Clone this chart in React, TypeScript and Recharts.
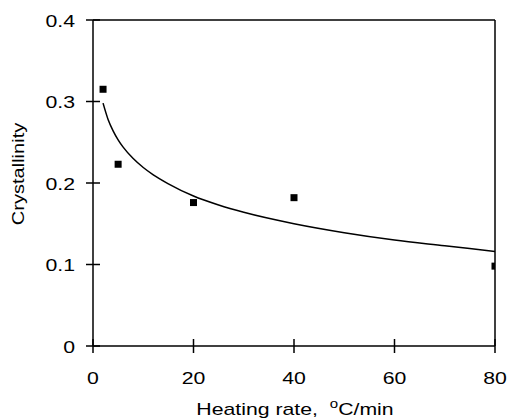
import React from "react";
import { ComposedChart, Line, Scatter, XAxis, YAxis, ReferenceLine } from "recharts";

// Measured crystallinity (square markers)
const measuredRate = [2, 5, 20, 40, 80];
const measuredCryst = [0.315, 0.223, 0.176, 0.182, 0.098];

// Fitted curve
const curveRate = [2, 3, 4, 5, 6, 8, 10, 12, 15, 20, 25, 30, 40, 50, 60, 70, 80];
const curveCryst = [0.298, 0.278, 0.264, 0.253, 0.244, 0.23, 0.219, 0.21, 0.199, 0.184, 0.173, 0.164, 0.15, 0.139, 0.13, 0.123, 0.116];

const xTicks = [0, 20, 40, 60, 80];
const yTicks = [0, 0.1, 0.2, 0.3, 0.4];

const points = measuredRate.map((x, i) => ({ x, y: measuredCryst[i] }));
const curve = curveRate.map((x, i) => ({ x, y: curveCryst[i] }));

const FONT = "'Liberation Sans', Arial, Helvetica, sans-serif";
const FS = 17;
const SX = 1.25;

const YTick = (props: any) => {
  const { x, y, payload } = props;
  return (
    <g>
      <line x1={x - 7} x2={x + 7} y1={y} y2={y} stroke="#000" strokeWidth={1.5} />
      <text
        x={0}
        y={0}
        transform={`translate(${x - 18}, ${y + 6.5}) scale(${SX}, 1)`}
        textAnchor="end"
        fontFamily={FONT}
        fontSize={FS}
        fill="#000"
      >
        {String(payload.value)}
      </text>
    </g>
  );
};

const XTick = (props: any) => {
  const { x, y, payload } = props;
  return (
    <g>
      <line x1={x} x2={x} y1={y - 7} y2={y + 7} stroke="#000" strokeWidth={1.5} />
      <text
        x={0}
        y={0}
        transform={`translate(${x}, ${y + 38}) scale(${SX}, 1)`}
        textAnchor="middle"
        fontFamily={FONT}
        fontSize={FS}
        fill="#000"
      >
        {String(payload.value)}
      </text>
    </g>
  );
};

const XLabel = (props: any) => {
  const vb = props.viewBox || { x: 93, y: 346, width: 402, height: 74 };
  const cx = vb.x + vb.width / 2 + 1;
  return (
    <text
      x={0}
      y={0}
      transform={`translate(${cx}, 415) scale(${SX}, 1)`}
      textAnchor="middle"
      fontFamily={FONT}
      fontSize={FS}
      fill="#000"
    >
      {"Heating rate,\u00A0\u00A0"}
      <tspan fontSize={12} dy={-7}>o</tspan>
      <tspan dy={7}>C/min</tspan>
    </text>
  );
};

const YLabel = (props: any) => {
  const vb = props.viewBox || { x: 0, y: 20, width: 93, height: 326 };
  const cy = vb.y + vb.height / 2 - 9;
  const bx = 24;
  return (
    <text
      x={0}
      y={0}
      transform={`translate(${bx}, ${cy}) rotate(-90) scale(1.18, 1)`}
      textAnchor="middle"
      fontFamily={FONT}
      fontSize={FS}
      fill="#000"
    >
      Crystallinity
    </text>
  );
};

const Square = (props: any) => {
  const { cx, cy } = props;
  return <rect x={cx - 3.5} y={cy - 3.5} width={7} height={7} fill="#000" />;
};

export default function App() {
  return (
    <div style={{ position: "absolute", left: 0, top: 0, width: 508, height: 420, background: "#fff" }}>
      <ComposedChart width={508} height={420} margin={{ top: 20, right: 13, bottom: 0, left: 0 }}>
        <XAxis
          dataKey="x"
          type="number"
          domain={[0, 80]}
          ticks={xTicks}
          allowDataOverflow
          height={74}
          tickSize={0}
          tickMargin={0}
          tickLine={false}
          tick={<XTick />}
          axisLine={{ stroke: "#000", strokeWidth: 1.5 }}
          label={{ content: <XLabel /> }}
        />
        <YAxis
          type="number"
          domain={[0, 0.4]}
          ticks={yTicks}
          allowDataOverflow
          width={93}
          tickSize={0}
          tickMargin={0}
          tickLine={false}
          tick={<YTick />}
          axisLine={{ stroke: "#000", strokeWidth: 1.5 }}
          label={{ content: <YLabel /> }}
        />
        <ReferenceLine y={0.4} stroke="#000" strokeWidth={1.5} />
        <ReferenceLine x={80} stroke="#000" strokeWidth={1.5} />
        <Line
          data={curve}
          dataKey="y"
          type="monotone"
          stroke="#000"
          strokeWidth={1.5}
          dot={false}
          isAnimationActive={false}
        />
        <Scatter data={points} dataKey="y" shape={<Square />} isAnimationActive={false} />
      </ComposedChart>
    </div>
  );
}
